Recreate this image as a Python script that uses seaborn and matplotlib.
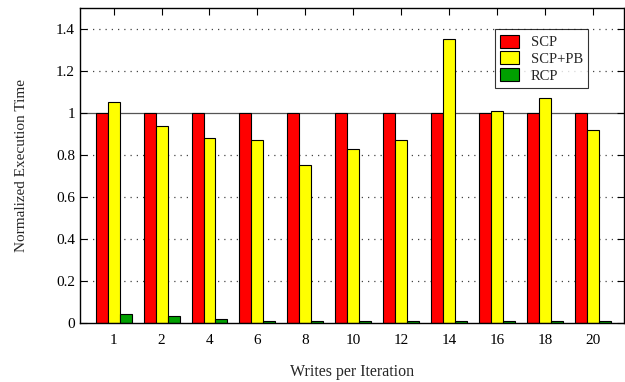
import matplotlib
matplotlib.use("Agg")
import matplotlib.pyplot as plt
import seaborn as sns
import pandas as pd

categories = ["1", "2", "4", "6", "8", "10", "12", "14", "16", "18", "20"]
scp = [1, 1, 1, 1, 1, 1, 1, 1, 1, 1, 1]
scp_pb = [1.05, 0.94, 0.88, 0.87, 0.75, 0.83, 0.87, 1.35, 1.01, 1.07, 0.92]
rcp = [0.04, 0.03, 0.02, 0.01, 0.01, 0.01, 0.01, 0.01, 0.01, 0.01, 0.01]
series = ["SCP", "SCP+PB", "RCP"]
colors = ["#ff0000", "#ffff00", "#00a000"]

rows = []
for name, vals in zip(series, [scp, scp_pb, rcp]):
    for c, v in zip(categories, vals):
        rows.append({"Writes": c, "Value": v, "Series": name})
df = pd.DataFrame(rows)

sns.set_style("white")
plt.rcParams["font.family"] = ["Liberation Serif", "DejaVu Serif"]

fig = plt.figure(figsize=(6.25, 3.82), dpi=100)
ax = fig.add_axes([0.128, 0.155, 0.871, 0.824])

for y in [0.2, 0.4, 0.6, 0.8, 1.2, 1.4]:
    ax.axhline(y, color="#444444", lw=0.9, ls=(0, (1, 4)), zorder=0)
ax.axhline(1.0, color="#555555", lw=0.9, zorder=0)

sns.barplot(data=df, x="Writes", y="Value", hue="Series", order=categories,
            hue_order=series, palette=colors, width=0.75, edgecolor="black",
            linewidth=0.8, saturation=1, ax=ax, zorder=2)

ax.set_xlim(-0.7, 10.65)
ax.set_ylim(0, 1.5)
ax.set_yticks([0, 0.2, 0.4, 0.6, 0.8, 1.0, 1.2, 1.4])
ax.set_yticklabels(["0", "0.2", "0.4", "0.6", "0.8", "1", "1.2", "1.4"])
ax.tick_params(axis="both", direction="in", length=5, width=0.8, labelsize=11,
               top=True, right=True, bottom=True, left=True, colors="black")
ax.tick_params(axis="x", pad=8)
ax.set_xlabel("Writes per Iteration", fontsize=11.5, labelpad=12)
ax.set_ylabel("Normalized Execution Time", fontsize=11, labelpad=20)
for s in ax.spines.values():
    s.set_color("black")
    s.set_linewidth(1.0)

leg = ax.legend(loc="upper left", bbox_to_anchor=(0.749, 0.955), fontsize=10.5,
                frameon=True, fancybox=False, edgecolor="black",
                handlelength=1.3, handleheight=1.0, handletextpad=0.8,
                labelspacing=0.15, borderpad=0.35)
leg.get_frame().set_linewidth(0.8)

fig.savefig("out.png", dpi=100)
